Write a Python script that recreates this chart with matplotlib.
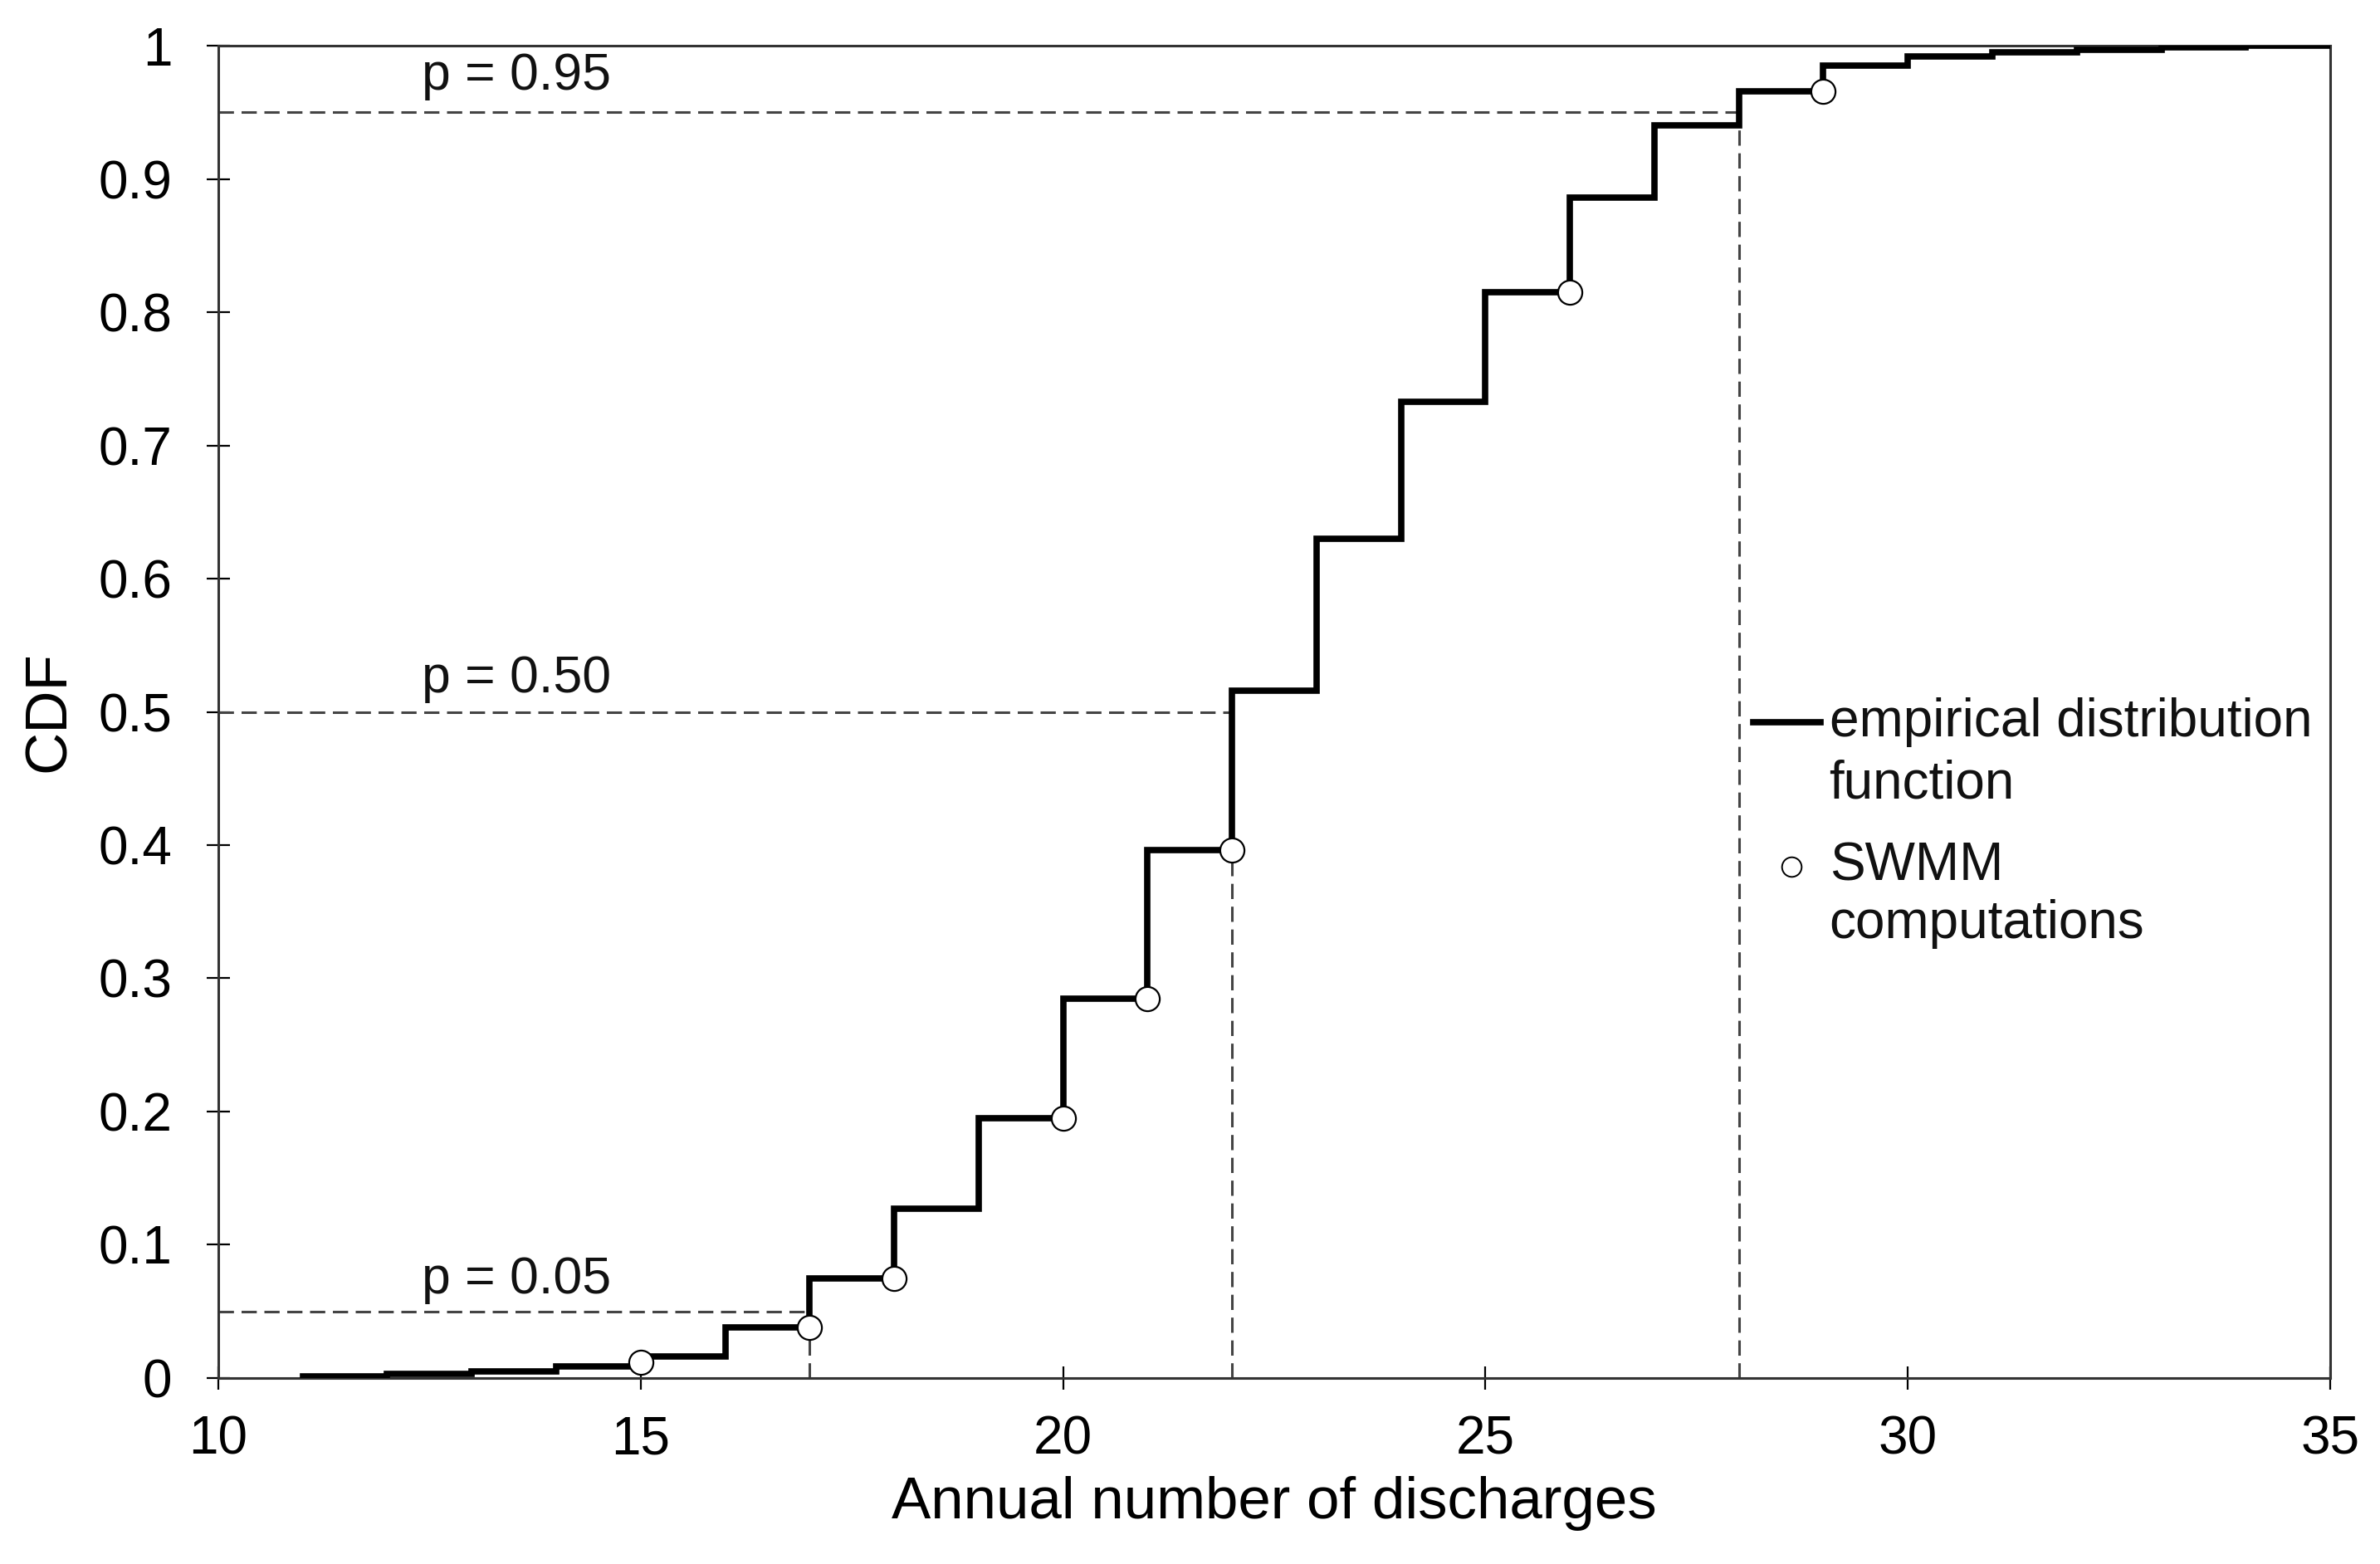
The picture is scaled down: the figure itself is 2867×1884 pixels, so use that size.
import matplotlib
matplotlib.use("Agg")
import matplotlib.pyplot as plt

plt.rcParams['font.family'] = ['Liberation Sans', 'DejaVu Sans']

# Empirical distribution function (value on [x, x+1))
step_x = [11, 12, 13, 14, 15, 16, 17, 18, 19, 20, 21, 22, 23, 24, 25, 26, 27, 28, 29, 30, 31, 32, 33, 34, 35]
step_y = [0.001, 0.003, 0.005, 0.009, 0.016, 0.038, 0.075, 0.127, 0.195, 0.285, 0.396, 0.516, 0.630, 0.733,
          0.815, 0.886, 0.940, 0.966, 0.985, 0.992, 0.995, 0.997, 0.999, 1.000, 1.000]

# SWMM computations
swmm_x = [15, 17, 18, 20, 21, 22, 26, 29]
swmm_y = [0.012, 0.038, 0.075, 0.195, 0.285, 0.396, 0.815, 0.966]

# Quantile reference lines
p_levels = [0.05, 0.50, 0.95]
p_quant = [17, 22, 28]
p_labels = ["p = 0.05", "p = 0.50", "p = 0.95"]

x_ticks = [10, 15, 20, 25, 30, 35]
y_ticks = [0, 0.1, 0.2, 0.3, 0.4, 0.5, 0.6, 0.7, 0.8, 0.9, 1]
y_ticklabels = ["0", "0.1", "0.2", "0.3", "0.4", "0.5", "0.6", "0.7", "0.8", "0.9", "1"]

legend_lines = [["empirical distribution", "function"], ["SWMM", "computations"]]

fig = plt.figure(figsize=(28.67, 18.84), dpi=100)
ax = fig.add_axes([0.0917, 0.1189, 0.8874, 0.8519])

dash_col = "#444444"
for p, q in zip(p_levels, p_quant):
    ax.plot([10, q], [p, p], color=dash_col, lw=2.2, dashes=(6, 3), zorder=2)
    ax.plot([q, q], [0, p], color=dash_col, lw=2.2, dashes=(6, 3), zorder=2)

label_y = [0.074, 0.525, 0.977]
for txt, ly in zip(p_labels, label_y):
    ax.text(12.41, ly, txt, fontsize=45, ha="left", va="center", color="#111111")

ax.step(step_x, step_y, where="post", color="black", lw=5.5, zorder=3, solid_joinstyle="miter")
ax.plot(swmm_x, swmm_y, linestyle="none", marker="o", markersize=21, markerfacecolor="white",
        markeredgecolor="black", markeredgewidth=1.6, zorder=4)

ax.set_xlim(10, 35)
ax.set_ylim(0, 1)
ax.set_xticks(x_ticks)
ax.set_yticks(y_ticks)
ax.set_yticklabels(y_ticklabels)
ax.tick_params(axis="both", direction="inout", length=20, width=1.6, labelsize=46, colors="black")
ax.tick_params(axis="x", pad=22)
ax.tick_params(axis="y", pad=30)
for s in ax.spines.values():
    s.set_linewidth(2.2)
    s.set_color("#333333")

ax.set_xlabel("Annual number of discharges", fontsize=51, labelpad=10)
ax.set_ylabel("CDF", fontsize=51, labelpad=18)

# Legend (drawn in data coordinates, handles aligned with first label line)
ax.plot([28.17, 28.97], [0.492, 0.492], color="black", lw=5.5, zorder=5)
ax.plot([28.62], [0.384], linestyle="none", marker="o", markersize=17, markerfacecolor="white",
        markeredgecolor="black", markeredgewidth=1.4, zorder=5)
legend_y = [[0.492, 0.446], [0.384, 0.3405]]
for lines, ys in zip(legend_lines, legend_y):
    for t, yy in zip(lines, ys):
        ax.text(29.07, yy, t, fontsize=46, ha="left", va="center", color="#111111")

fig.savefig("out.png", dpi=100, facecolor="white")
